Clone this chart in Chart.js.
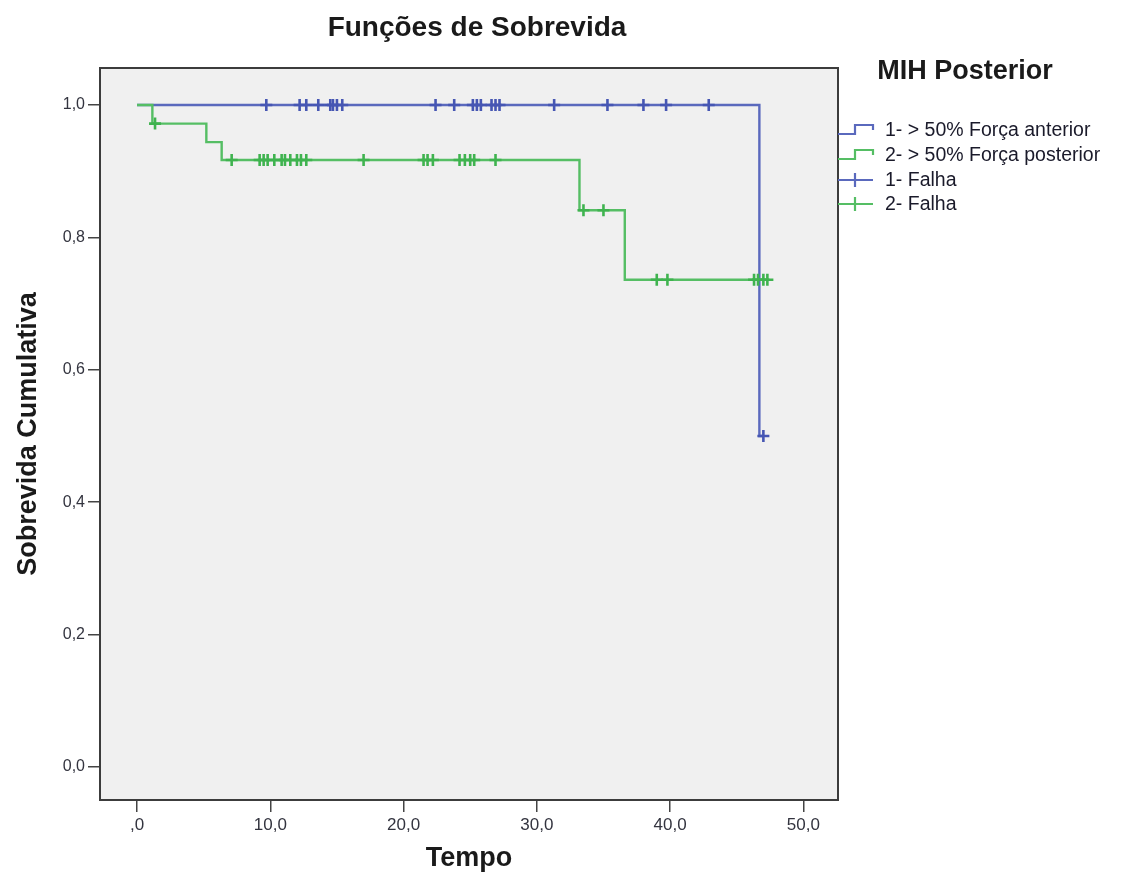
<!DOCTYPE html>
<html lang="pt">
<head>
<meta charset="utf-8">
<title>Funções de Sobrevida</title>
<script src="https://cdn.jsdelivr.net/npm/chart.js@4.4.1/dist/chart.umd.min.js"></script>
<style>
  html, body { margin: 0; padding: 0; background: #ffffff; }
  #wrap { position: relative; width: 1123px; height: 880px; }
</style>
</head>
<body>
<div id="wrap"><canvas id="km"></canvas></div>
<script>
// Kaplan-Meier survival estimates (Tempo vs Sobrevida Cumulativa)
const chartTitle = 'Funções de Sobrevida';
const legendTitle = 'MIH Posterior';
const groupLabels = ['1- > 50% Força anterior', '2- > 50% Força posterior'];
const censorLabels = ['1- Falha', '2- Falha'];

// Group 1: step function (event times and survival after each step)
const stepTimes1 = [0, 46.7, 47.0];
const stepValues1 = [1.0, 0.5, 0.5];
// Group 1: censored observations
const censorTimes1 = [9.7, 12.2, 12.7, 13.6, 14.5, 14.7, 15.0, 15.4, 22.4, 23.8,
  25.2, 25.5, 25.8, 26.6, 26.9, 27.2, 31.3, 35.3, 38.0, 39.7, 42.9, 47.0];

// Group 2: step function
const stepTimes2 = [0, 1.15, 5.2, 6.35, 33.2, 36.6, 47.3];
const stepValues2 = [1.0, 0.972, 0.944, 0.917, 0.841, 0.736, 0.736];
// Group 2: censored observations
const censorTimes2 = [1.35, 7.1, 9.2, 9.5, 9.8, 10.3, 10.85, 11.1, 11.5, 12.0, 12.3,
  12.7, 17.0, 21.5, 21.8, 22.2, 24.2, 24.6, 25.0, 25.3, 26.9, 33.5, 35.0,
  39.0, 39.8, 46.3, 46.6, 47.0, 47.3];

// Axis ticks
const xTickValues = [0, 10, 20, 30, 40, 50];
const yTickValues = [0, 0.2, 0.4, 0.6, 0.8, 1.0];

const blue = '#5a69bd';
const blueDark = '#4656b3';
const green = '#55be64';
const greenDark = '#3fb34f';
const FONT = "'Liberation Sans', Arial, Helvetica, sans-serif";

// Survival value of a step curve at time t (value of the last step at or before t)
function survivalAt(times, values, t) {
  let v = values[0];
  for (let i = 0; i < times.length; i++) {
    if (times[i] <= t) v = values[i];
  }
  return v;
}

const steps1 = stepTimes1.map((t, i) => ({ x: t, y: stepValues1[i] }));
const steps2 = stepTimes2.map((t, i) => ({ x: t, y: stepValues2[i] }));
const cens1 = censorTimes1.map(t => ({ x: t, y: survivalAt(stepTimes1, stepValues1, t) }));
const cens2 = censorTimes2.map(t => ({ x: t, y: survivalAt(stepTimes2, stepValues2, t) }));

function commaFixed(v) {
  return v.toFixed(1).replace('.', ',');
}

// Plot background, frame, chart title and the group legend
const framePlugin = {
  id: 'frame',
  beforeDatasetsDraw(chart) {
    const { ctx, chartArea: a } = chart;
    ctx.save();
    ctx.fillStyle = '#f0f0f0';
    ctx.fillRect(a.left, a.top, a.right - a.left, a.bottom - a.top);
    ctx.restore();
  },
  afterDatasetsDraw(chart) {
    const { ctx, chartArea: a } = chart;
    ctx.save();
    ctx.strokeStyle = '#3c3c3c';
    ctx.lineWidth = 2;
    ctx.strokeRect(a.left, a.top, a.right - a.left, a.bottom - a.top);
    ctx.restore();
  },
  afterDraw(chart) {
    const { ctx } = chart;
    ctx.save();
    ctx.fillStyle = '#1a1a1a';
    ctx.textBaseline = 'middle';
    ctx.textAlign = 'center';
    ctx.font = 'bold 28px ' + FONT;
    ctx.fillText(chartTitle, 477, 28);

    ctx.font = 'bold 27px ' + FONT;
    ctx.fillText(legendTitle, 965, 72);

    const rows = [130, 155, 180, 204];
    const colors = [blue, green, blue, green];
    const texts = [groupLabels[0], groupLabels[1], censorLabels[0], censorLabels[1]];
    rows.forEach((y, i) => {
      ctx.strokeStyle = colors[i];
      ctx.lineWidth = 2.2;
      ctx.beginPath();
      if (i < 2) {
        ctx.moveTo(838, y + 4);
        ctx.lineTo(855, y + 4);
        ctx.lineTo(855, y - 5);
        ctx.lineTo(873, y - 5);
        ctx.lineTo(873, y);
      } else {
        ctx.moveTo(838, y);
        ctx.lineTo(873, y);
        ctx.moveTo(855, y - 7);
        ctx.lineTo(855, y + 7);
      }
      ctx.stroke();
      ctx.fillStyle = '#1a1a2a';
      ctx.textAlign = 'left';
      ctx.font = '19.5px ' + FONT;
      ctx.fillText(texts[i], 885, y + 1);
    });
    ctx.restore();
  }
};

const axisGrid = {
  drawOnChartArea: false,
  drawTicks: true,
  tickLength: 12,
  color: '#444444',
  lineWidth: 1.5
};

new Chart(document.getElementById('km'), {
  type: 'scatter',
  data: {
    datasets: [
      {
        label: censorLabels[0], data: cens1, showLine: false,
        pointStyle: 'cross', pointRadius: 6, pointBorderWidth: 2.6,
        borderColor: blueDark, backgroundColor: blueDark, order: 2
      },
      {
        label: groupLabels[0], data: steps1, showLine: true, stepped: 'before',
        borderColor: blue, borderWidth: 2.4, pointRadius: 0, order: 3
      },
      {
        label: censorLabels[1], data: cens2, showLine: false,
        pointStyle: 'cross', pointRadius: 6, pointBorderWidth: 2.6,
        borderColor: greenDark, backgroundColor: greenDark, order: 0
      },
      {
        label: groupLabels[1], data: steps2, showLine: true, stepped: 'before',
        borderColor: green, borderWidth: 2.4, pointRadius: 0, order: 1
      }
    ]
  },
  plugins: [framePlugin],
  options: {
    responsive: true,
    maintainAspectRatio: false,
    animation: false,
    layout: { padding: { top: 68, right: 285, bottom: 0, left: 0 } },
    plugins: {
      legend: { display: false },
      title: { display: false },
      tooltip: { enabled: false }
    },
    scales: {
      x: {
        type: 'linear',
        min: -2.78,
        max: 52.6,
        afterFit(scale) { scale.height = 80; },
        afterBuildTicks(scale) { scale.ticks = xTickValues.map(v => ({ value: v })); },
        grid: axisGrid,
        border: { display: false },
        ticks: {
          padding: 3,
          color: '#33343f',
          font: { family: FONT, size: 17 },
          callback(v) { return v === 0 ? ',0' : commaFixed(v); }
        },
        title: {
          display: true,
          text: 'Tempo',
          color: '#1a1a1a',
          font: { family: FONT, size: 27, weight: 'bold' },
          padding: { top: 0, bottom: 5 }
        }
      },
      y: {
        type: 'linear',
        min: -0.05,
        max: 1.056,
        afterFit(scale) { scale.width = 100; },
        afterBuildTicks(scale) { scale.ticks = yTickValues.map(v => ({ value: v })); },
        grid: axisGrid,
        border: { display: false },
        ticks: {
          padding: 3,
          color: '#33343f',
          font: { family: FONT, size: 16 },
          callback(v) { return commaFixed(v); }
        },
        title: {
          display: true,
          text: 'Sobrevida Cumulativa',
          color: '#1a1a1a',
          font: { family: FONT, size: 27, weight: 'bold' },
          padding: { top: 12, bottom: 0 }
        }
      }
    }
  }
});
</script>
</body>
</html>
